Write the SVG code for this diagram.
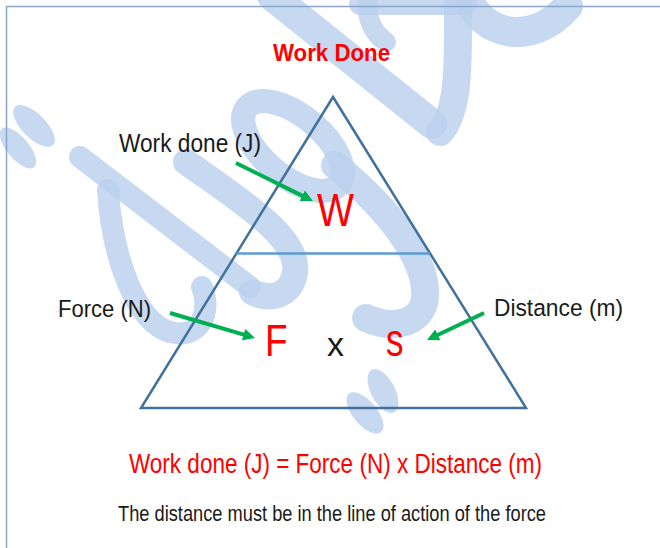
<svg xmlns="http://www.w3.org/2000/svg" width="660" height="548" viewBox="0 0 660 548">
  <style>
    .wm { fill: none; stroke: #b9d0ed; stroke-opacity: 0.8; stroke-linecap: round; stroke-linejoin: round; }
    .wmf { fill: #b9d0ed; fill-opacity: 0.8; stroke: none; }
    .lbl { font-family: "Liberation Sans", Arial, sans-serif; fill: #1a1a1a; }
    .red { font-family: "Liberation Sans", Arial, sans-serif; fill: #ff0000; }
    .arrow { stroke: #00b050; stroke-width: 4; fill: none; marker-end: url(#ah); }
  </style>
  <defs>
    <marker id="ah" markerWidth="3" markerHeight="3" refX="0.5" refY="1.5" orient="auto" markerUnits="strokeWidth">
      <path d="M0,0 L3,1.5 L0,3 z" fill="#00b050"/>
    </marker>
  </defs>
  <rect x="0" y="0" width="660" height="548" fill="#ffffff"/>

  <g id="watermark">
    <path class="wm" stroke-width="30" d="M 272 -4 L 432 124"/>
    <path class="wm" stroke-width="28" d="M 458 0 C 458 60, 460 110, 440 132"/>
    <path class="wm" stroke-width="30" d="M 468 -2 C 480 32, 530 50, 568 6"/>
    <path class="wm" stroke-width="22" d="M 360 4 L 466 4"/>
    <path class="wm" stroke-width="20" d="M 368 0 C 366 20, 374 34, 386 42"/>
    <ellipse class="wm" stroke-width="24" cx="293" cy="146" rx="60" ry="30" transform="rotate(40 293 146)"/>
    <path class="wm" stroke-width="28" d="M 335 165 C 390 210, 428 260, 425 298 C 422 324, 392 330, 366 318"/>
    <path class="wm" stroke-width="22" d="M 80 157 L 250 287"/>
    <path class="wm" stroke-width="22" d="M 108 190 C 112 255, 135 322, 170 332 C 200 340, 212 312, 202 287"/>
    <path class="wm" stroke-width="26" d="M 186 162 C 240 200, 300 238, 295 272 C 292 294, 272 302, 252 292"/>
    <ellipse class="wmf" cx="34" cy="126" rx="27" ry="12" transform="rotate(45 34 126)"/>
    <ellipse class="wmf" cx="18" cy="148" rx="25" ry="11" transform="rotate(50 18 148)"/>
    <ellipse class="wmf" cx="383" cy="391" rx="24" ry="12" transform="rotate(62 383 391)"/>
    <ellipse class="wmf" cx="365" cy="413" rx="25" ry="12" transform="rotate(50 365 413)"/>
  </g>

  <rect id="frame" x="6.5" y="6.5" width="700" height="600" fill="none" stroke="#8aa6cc" stroke-width="1.5"/>

  <g id="triangle">
    <polygon points="333,97 141,408 526,408" fill="none" stroke="#41719c" stroke-width="2.5" stroke-linejoin="miter"/>
    <line x1="236" y1="253.5" x2="430" y2="253.5" stroke="#5b9bd5" stroke-width="2.5"/>
  </g>

  <g id="title">
    <text class="red" x="273" y="61" font-size="24" font-weight="bold" textLength="117" lengthAdjust="spacingAndGlyphs">Work Done</text>
  </g>

  <g id="node-W">
    <text class="red" x="317" y="226" font-size="47" textLength="37" lengthAdjust="spacingAndGlyphs">W</text>
  </g>
  <g id="node-F">
    <text class="red" x="265" y="355.5" font-size="45" textLength="22.6" lengthAdjust="spacingAndGlyphs">F</text>
  </g>
  <g id="node-x">
    <text class="lbl" x="327" y="356" font-size="34" fill="#000000">x</text>
  </g>
  <g id="node-s">
    <text class="red" x="386" y="356" font-size="46" textLength="17.5" lengthAdjust="spacingAndGlyphs">s</text>
  </g>

  <g id="label-work">
    <text class="lbl" x="119" y="152" font-size="25" textLength="142" lengthAdjust="spacingAndGlyphs">Work done (J)</text>
  </g>
  <g id="label-force">
    <text class="lbl" x="58" y="316.5" font-size="24.5" textLength="93" lengthAdjust="spacingAndGlyphs">Force (N)</text>
  </g>
  <g id="label-distance">
    <text class="lbl" x="494" y="316" font-size="24.5" textLength="129" lengthAdjust="spacingAndGlyphs">Distance (m)</text>
  </g>

  <g id="connectors">
    <line class="arrow" x1="236" y1="163" x2="304" y2="196.6"/>
    <line class="arrow" x1="170" y1="313" x2="245.4" y2="335.2"/>
    <line class="arrow" x1="484" y1="313" x2="436" y2="335.7"/>
  </g>

  <g id="formula">
    <text class="red" x="129" y="473" font-size="27" textLength="413" lengthAdjust="spacingAndGlyphs">Work done (J) = Force (N) x Distance (m)</text>
  </g>
  <g id="note">
    <text class="lbl" x="118" y="520.5" font-size="22" textLength="428" lengthAdjust="spacingAndGlyphs">The distance must be in the line of action of the force</text>
  </g>
</svg>
